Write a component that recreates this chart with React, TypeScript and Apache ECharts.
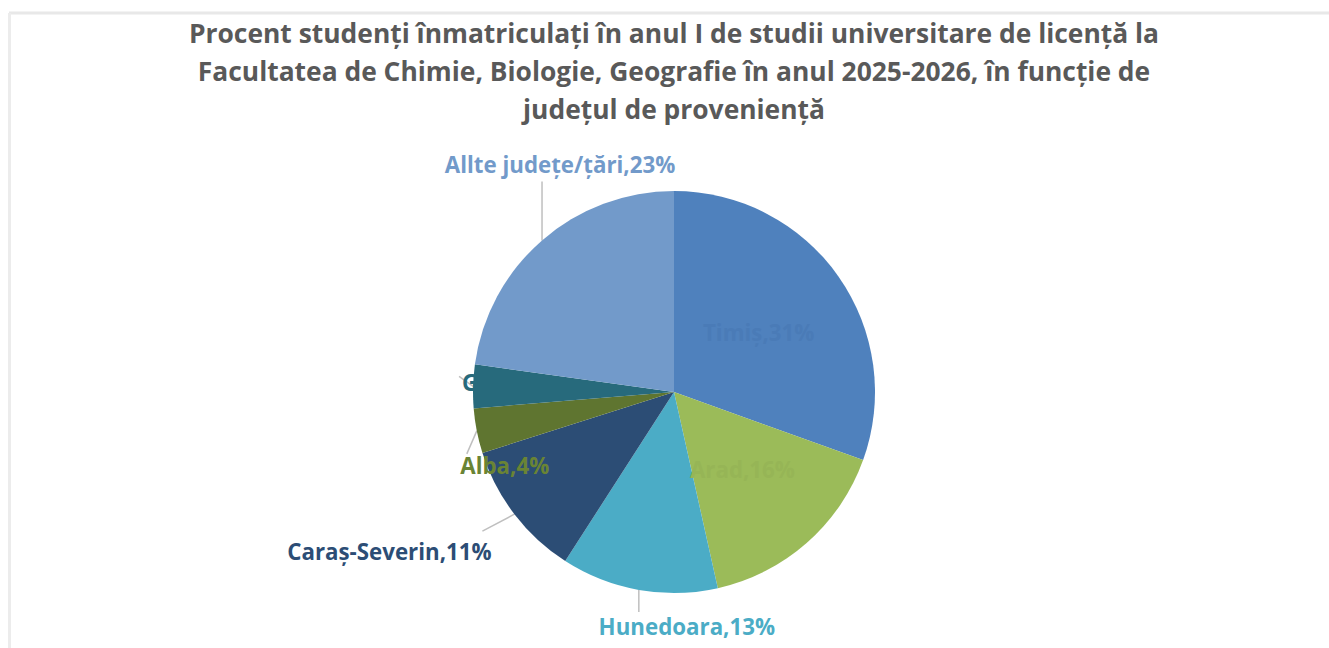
import React, { useEffect, useRef } from "react";
import * as echarts from "echarts";

const titleLines = [
  "Procent studenți înmatriculați în anul I de studii universitare de licență la",
  "Facultatea de Chimie, Biologie, Geografie în anul 2025-2026, în funcție de",
  "județul de proveniență",
];

const categories = ["Timiș", "Arad", "Hunedoara", "Caraș-Severin", "Alba", "Gorj", "Allte județe/țări"];
const shares = [30.5, 16, 12.6, 11, 3.6, 3.5, 22.8];
const sliceColors = ["#4F81BD", "#9BBB59", "#4BACC6", "#2C4D75", "#5F7530", "#276A7C", "#729ACA"];
const labelColors = ["#4A7BB7", "#96B556", "#4BACC6", "#2C4D75", "#6A8434", "#276A7C", "#729ACA"];
const insideLabels = [true, true, false, false, false, false, false];

// label layout offsets relative to slice edge midpoint: [dx, dy] of label centre, and leader line end
const labelOffsets: Record<number, { dx: number; dy: number; line: [number, number] }> = {
  2: { dx: 48, dy: 37, line: [0, 22] },
  3: { dx: -125, dy: 37, line: [-32, 17] },
  4: { dx: 28, dy: 35, line: [-10, 23] },
  5: { dx: 32, dy: -4, line: [-14, -10] },
  6: { dx: 18, dy: -76, line: [0, -59] },
};

export default function App() {
  const ref = useRef<HTMLDivElement>(null);
  useEffect(() => {
    if (!ref.current) return;
    const chart = echarts.init(ref.current, null, { renderer: "svg" });
    const data = categories.map((name, i) => ({
      name,
      value: shares[i],
      itemStyle: { color: sliceColors[i] },
      label: {
        position: insideLabels[i] ? "inside" : "outside",
        color: labelColors[i],
      },
      labelLine: { show: !insideLabels[i] },
    }));
    chart.setOption({
      animation: false,
      backgroundColor: "#ffffff",
      title: {
        text: titleLines.join("\n"),
        left: 669,
        textAlign: "center",
        top: 9,
        textStyle: {
          fontFamily: "Open Sans",
          fontSize: 26.4,
          fontWeight: "bold",
          color: "#595959",
          lineHeight: 38,
        },
      },
      graphic: [
        { type: "line", shape: { x1: 9, y1: 13, x2: 1329, y2: 13 }, style: { stroke: "#e8e8e8", lineWidth: 3 } },
        { type: "line", shape: { x1: 9.5, y1: 13, x2: 9.5, y2: 648 }, style: { stroke: "#ececec", lineWidth: 3 } },
      ],
      series: [
        {
          type: "pie",
          center: [674, 392],
          radius: 201,
          startAngle: 90,
          clockwise: true,
          data,
          label: {
            show: true,
            formatter: (p: any) => `${p.name},${Math.round(p.value)}%`,
            fontFamily: "Open Sans",
            fontSize: 22.3,
            fontWeight: "bold",
          },
          labelLine: {
            show: true,
            length: 10,
            length2: 10,
            lineStyle: { color: "#BFBFBF", width: 1.5 },
          },
          labelLayout: (params: any) => {
            const o = labelOffsets[params.dataIndex];
            if (!o || !params.labelLinePoints) return {};
            const e = params.labelLinePoints[0];
            return {
              x: e[0] + o.dx,
              y: e[1] + o.dy,
              align: "center",
              verticalAlign: "middle",
              labelLinePoints: [
                [e[0], e[1]],
                [e[0] + o.line[0], e[1] + o.line[1]],
                [e[0] + o.line[0], e[1] + o.line[1]],
              ],
            };
          },
        },
      ],
    });
    return () => chart.dispose();
  }, []);
  return (
    <div
      ref={ref}
      style={{ position: "absolute", left: 0, top: 0, width: 1329, height: 648 }}
    />
  );
}
